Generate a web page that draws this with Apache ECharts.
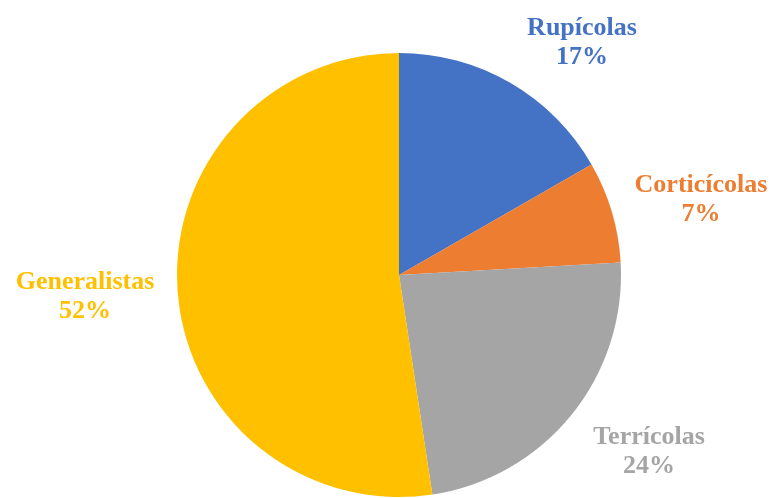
<!DOCTYPE html>
<html>
<head>
<meta charset="utf-8">
<script src="https://cdn.jsdelivr.net/npm/echarts@6/dist/echarts.min.js"></script>
<style>html,body{margin:0;padding:0;background:#fff;}#c{width:771px;height:498px;}</style>
</head>
<body>
<div id="c"></div>
<script>
var categories = ['Rupícolas', 'Corticícolas', 'Terrícolas', 'Generalistas'];
var values = [16.7, 7.4, 23.5, 52.4];
var colors = ['#4472C4', '#ED7D31', '#A5A5A5', '#FFC000'];
var labelPos = [[582, 43], [701, 200], [649, 452], [85, 297]];

var chart = echarts.init(document.getElementById('c'));
chart.setOption({
  animation: false,
  backgroundColor: '#fff',
  series: [{
    type: 'pie',
    center: [399, 275],
    radius: 222,
    startAngle: 90,
    clockwise: true,
    percentPrecision: 0,
    data: categories.map(function (c, i) {
      return { name: c, value: values[i], itemStyle: { color: colors[i] },
               label: { color: colors[i] } };
    }),
    itemStyle: { borderWidth: 0 },
    label: {
      show: true,
      position: 'outside',
      formatter: '{b}\n{d}%',
      fontFamily: '"Liberation Serif", "Times New Roman", serif',
      fontWeight: 'bold',
      fontSize: 26,
      lineHeight: 29,
      align: 'center',
      overflow: 'none'
    },
    labelLine: { show: false },
    labelLayout: function (p) {
      var pos = labelPos[p.dataIndex];
      return { x: pos[0], y: pos[1], align: 'center', verticalAlign: 'middle' };
    }
  }]
});
</script>
</body>
</html>
